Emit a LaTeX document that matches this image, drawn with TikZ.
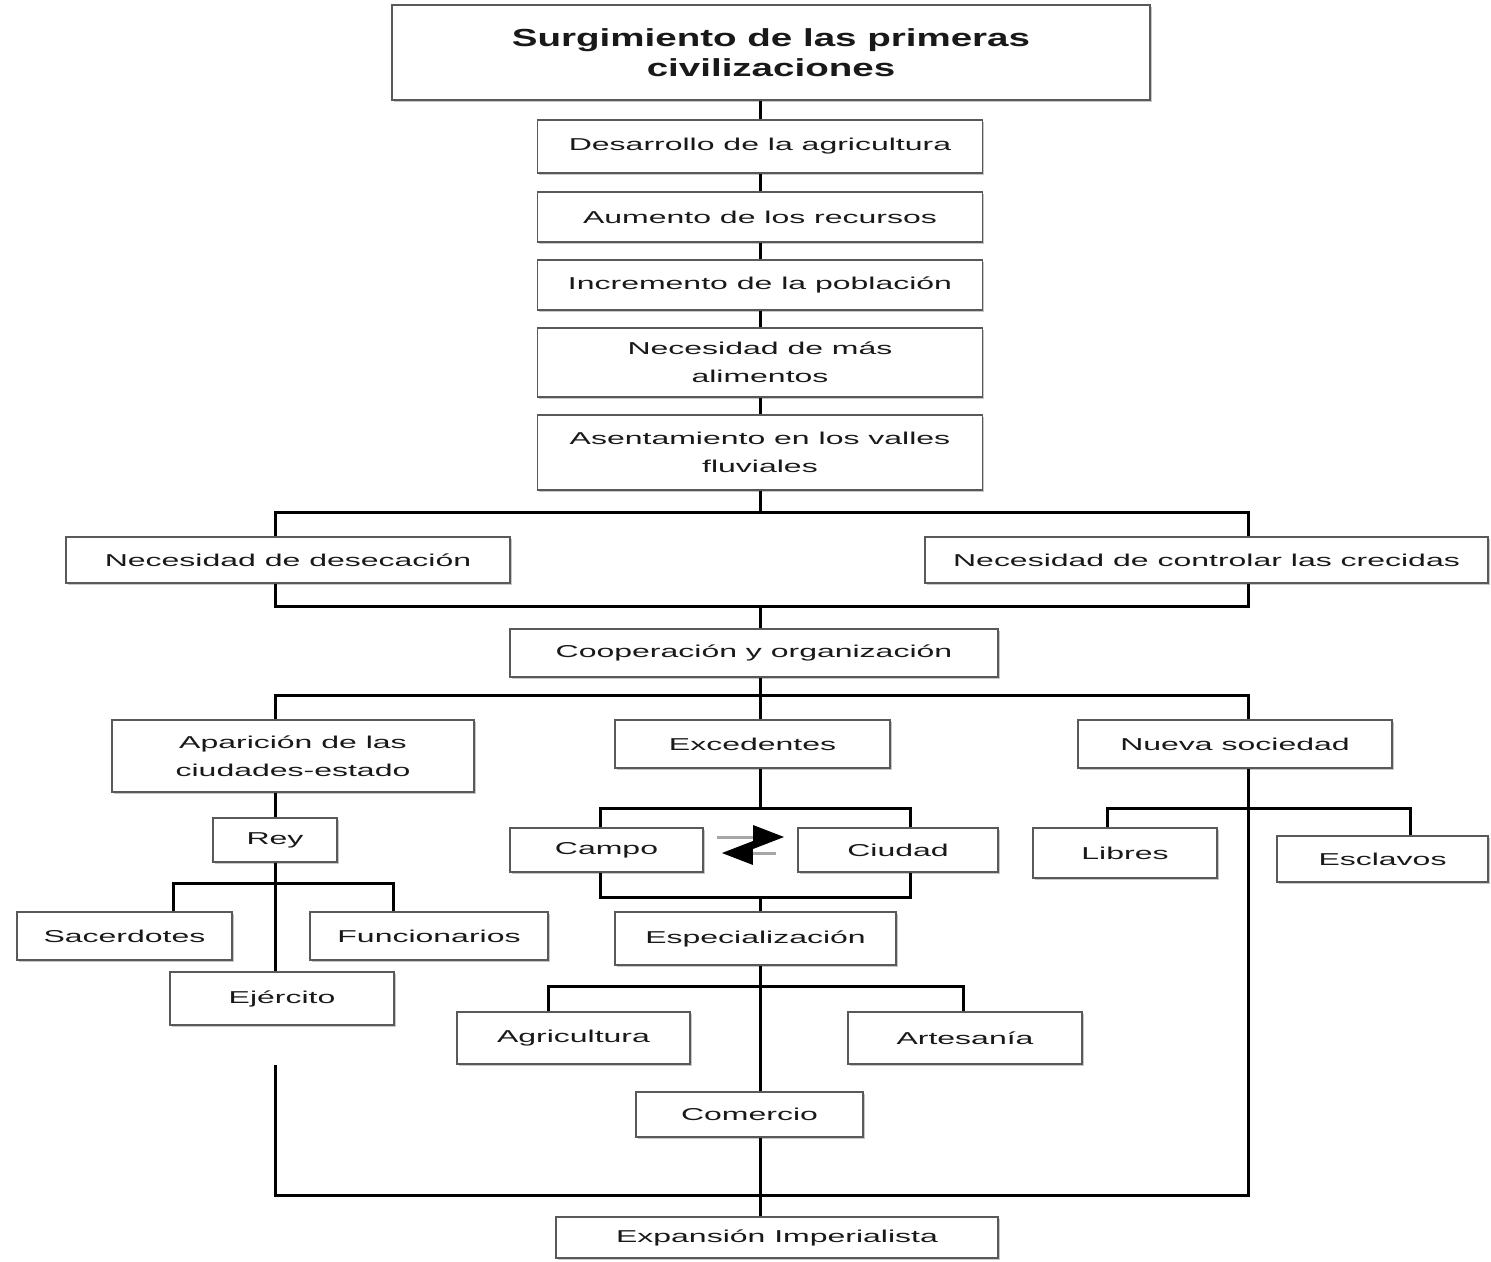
\documentclass[tikz,border=0pt]{standalone}
\usepackage{fontspec}
\setmainfont{Liberation Sans}[FakeStretch=1.86]
\newfontfamily\titlefont{Liberation Sans}[FakeStretch=1.56]
\usepackage{tikz}
\usetikzlibrary{arrows.meta,shadows}

\begin{document}
\begin{tikzpicture}[x=1pt,y=-1pt,
    caja/.style={draw=black!65,line width=1.6pt,fill=white,inner sep=0pt,
        align=center,text=black!90,
        font=\fontsize{17.2}{28}\selectfont,
        drop shadow={shadow xshift=1.5pt,shadow yshift=-2pt,fill=black!22,opacity=1}},
    linea/.style={line width=3pt},
    flecha/.style={gray!70,line width=3pt,
        -{Triangle[black,length=31pt,width=23pt]}}]
    \useasboundingbox (0,0) rectangle (1491,1261);

    % cadena central
    \node[caja,minimum width=758,minimum height=95,
        font=\titlefont\bfseries\fontsize{24.7}{30}\selectfont] (titulo) at (771,52.5)
        {Surgimiento de las primeras\\civilizaciones};
    \node[caja,minimum width=445,minimum height=53] (desarrollo) at (760,146.5) {Desarrollo de la agricultura};
    \node[caja,minimum width=445,minimum height=50] (aumento) at (760,217) {Aumento de los recursos};
    \node[caja,minimum width=445,minimum height=50] (incremento) at (760,285) {Incremento de la poblaci\'on};
    \node[caja,minimum width=445,minimum height=69] (alimentos) at (760,362.5) {Necesidad de m\'as\\alimentos};
    \node[caja,minimum width=445,minimum height=75] (asentamiento) at (760,452.5) {Asentamiento en los valles\\fluviales};

    \node[caja,minimum width=444,minimum height=46] (desecacion) at (288,560) {Necesidad de desecaci\'on};
    \node[caja,minimum width=563,minimum height=46] (crecidas) at (1206.5,560) {Necesidad de controlar las crecidas};
    \node[caja,minimum width=488,minimum height=48] (cooperacion) at (754,653) {Cooperaci\'on y organizaci\'on};

    % tres ramas
    \node[caja,minimum width=362,minimum height=72] (aparicion) at (293,756) {Aparici\'on de las\\ciudades-estado};
    \node[caja,minimum width=275,minimum height=48] (excedentes) at (752.5,744) {Excedentes};
    \node[caja,minimum width=314,minimum height=48] (nueva) at (1235,744) {Nueva sociedad};

    \node[caja,minimum width=124,minimum height=44] (rey) at (275,840) {Rey};
    \node[caja,minimum width=215,minimum height=48] (sacerdotes) at (124.5,936) {Sacerdotes};
    \node[caja,minimum width=238,minimum height=48] (funcionarios) at (429,936) {Funcionarios};
    \node[caja,minimum width=224,minimum height=53] (ejercito) at (282,998.5) {Ej\'ercito};

    \node[caja,minimum width=193,minimum height=44] (campo) at (606.5,850) {Campo};
    \node[caja,minimum width=200,minimum height=44] (ciudad) at (898,850) {Ciudad};
    \node[caja,minimum width=281,minimum height=53] (especializacion) at (755.5,938.5) {Especializaci\'on};
    \node[caja,minimum width=233,minimum height=52] (agricultura) at (573.5,1038) {Agricultura};
    \node[caja,minimum width=234,minimum height=52] (artesania) at (965,1038) {Artesan\'ia};
    \node[caja,minimum width=227,minimum height=45] (comercio) at (749.5,1114.5) {Comercio};

    \node[caja,minimum width=184,minimum height=50] (libres) at (1125,853) {Libres};
    \node[caja,minimum width=211,minimum height=46] (esclavos) at (1382.5,859) {Esclavos};

    \node[caja,minimum width=442,minimum height=41] (expansion) at (777,1237.5) {Expansi\'on Imperialista};

    % puntos de union
    \coordinate (r1) at (760,512);  \coordinate (r1i) at (275,512);  \coordinate (r1d) at (1248,512);
    \coordinate (r2) at (760,606);  \coordinate (r2i) at (275,606);  \coordinate (r2d) at (1248,606);
    \coordinate (r3) at (760,695);  \coordinate (r3i) at (275,695);  \coordinate (r3d) at (1248,695);
    \coordinate (reyi) at (173,883); \coordinate (reyd) at (393,883);
    \coordinate (exc) at (760,808); \coordinate (exci) at (600,808); \coordinate (excd) at (910,808);
    \coordinate (esp) at (760,897); \coordinate (espi) at (600,897); \coordinate (espd) at (910,897);
    \coordinate (ofi) at (760,986); \coordinate (ofii) at (548,986); \coordinate (ofid) at (963,986);
    \coordinate (soc) at (1248,808); \coordinate (soci) at (1107,808); \coordinate (socd) at (1410,808);
    \coordinate (ini) at (275,1065);
    \coordinate (fin) at (760,1195); \coordinate (fini) at (275,1195); \coordinate (find) at (1248,1195);

    % conectores
    \draw[linea] (desarrollo.north) -- (desarrollo.north |- titulo.south);
    \draw[linea] (desarrollo) -- (aumento);
    \draw[linea] (aumento.south) -- (incremento.north);
    \draw[linea] (incremento.south) -- (alimentos.north);
    \draw[linea] (alimentos.south) -- (asentamiento.north);
    \draw[linea] (asentamiento.south) -- (r1);
    \draw[linea] (desecacion.north -| r1i) -- (r1i) -- (r1d) -- (crecidas.north -| r1d);
    \draw[linea] (desecacion.south -| r2i) -- (r2i) -- (r2d) -- (crecidas.south -| r2d);
    \draw[linea] (r2) -- (cooperacion.north -| r2);
    \draw[linea] (cooperacion.south -| r3) -- (r3);
    \draw[linea] (aparicion.north -| r3i) -- (r3i) -- (r3d) -- (nueva.north -| r3d);
    \draw[linea] (r3) -- (excedentes.north -| r3);

    \draw[linea] (aparicion.south -| rey) -- (rey.north);
    \draw[linea] (rey.south) -- (ejercito.north -| rey);
    \draw[linea] (sacerdotes.north -| reyi) -- (reyi) -- (reyd) -- (funcionarios.north -| reyd);

    \draw[linea] (excedentes.south -| exc) -- (exc);
    \draw[linea] (campo.north -| exci) -- (exci) -- (excd) -- (ciudad.north -| excd);
    \draw[linea] (campo.south -| espi) -- (espi) -- (espd) -- (ciudad.south -| espd);
    \draw[linea] (esp) -- (especializacion.north -| esp);
    \draw[linea] (especializacion.south -| ofi) -- (ofi) -- (comercio.north -| ofi);
    \draw[linea] (agricultura.north -| ofii) -- (ofii) -- (ofid) -- (artesania.north -| ofid);

    \draw[linea] (libres.north -| soci) -- (soci) -- (socd) -- (esclavos.north -| socd);

    \draw[linea] (ini) -- (fini) -- (find) -- (nueva.south -| find);
    \draw[linea] (comercio.south -| fin) -- (fin) -- (expansion.north -| fin);

    % intercambio campo - ciudad
    \draw[flecha] ([xshift=13pt,yshift=13pt]campo.east) -- ([xshift=-13pt,yshift=13pt]ciudad.west);
    \draw[flecha] ([xshift=-21pt,yshift=-3pt]ciudad.west) -- ([xshift=18pt,yshift=-3pt]campo.east);
\end{tikzpicture}
\end{document}
